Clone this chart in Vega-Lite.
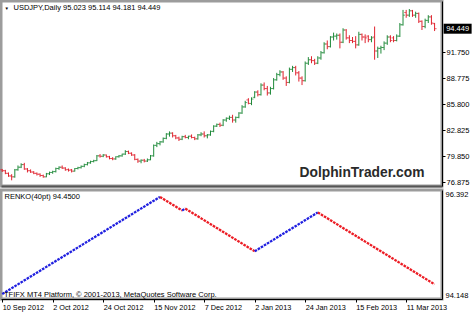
{
  "$schema": "https://vega.github.io/schema/vega-lite/v6.json",
  "padding": {"left": -4, "top": -1, "right": 0, "bottom": 0},
  "background": "white",
  "spacing": 0,
  "config": {
    "font": "Liberation Sans",
    "view": {"stroke": "#9c9c9c", "strokeWidth": 3},
    "axis": {"labelColor": "#000000", "domainColor": "#000000", "tickColor": "#000000", "labelFontSize": 7.5, "grid": false, "labelOverlap": false}
  },
  "resolve": {"scale": {"x": "independent", "y": "independent"}},
  "datasets": {
    "bars": [
      {"i":0,"o":78.30,"h":78.40,"l":78.05,"c":78.20},
      {"i":1,"o":78.20,"h":78.30,"l":77.80,"c":77.90},
      {"i":2,"o":77.90,"h":78.00,"l":77.50,"c":77.60},
      {"i":3,"o":77.60,"h":77.80,"l":77.10,"c":77.50},
      {"i":4,"o":77.50,"h":78.40,"l":77.40,"c":78.30},
      {"i":5,"o":78.30,"h":78.80,"l":78.20,"c":78.60},
      {"i":6,"o":78.60,"h":79.05,"l":78.50,"c":78.90},
      {"i":7,"o":78.90,"h":79.10,"l":78.30,"c":78.40},
      {"i":8,"o":78.40,"h":78.50,"l":78.00,"c":78.20},
      {"i":9,"o":78.20,"h":78.35,"l":77.95,"c":78.05},
      {"i":10,"o":78.05,"h":78.15,"l":77.80,"c":77.90},
      {"i":11,"o":77.90,"h":78.00,"l":77.65,"c":77.80},
      {"i":12,"o":77.80,"h":77.90,"l":77.50,"c":77.65},
      {"i":13,"o":77.65,"h":77.75,"l":77.40,"c":77.50},
      {"i":14,"o":77.50,"h":77.95,"l":77.45,"c":77.85},
      {"i":15,"o":77.85,"h":78.10,"l":77.70,"c":78.00},
      {"i":16,"o":78.00,"h":78.20,"l":77.85,"c":78.10},
      {"i":17,"o":78.10,"h":78.55,"l":78.00,"c":78.45},
      {"i":18,"o":78.45,"h":78.70,"l":78.30,"c":78.60},
      {"i":19,"o":78.60,"h":78.80,"l":78.40,"c":78.50},
      {"i":20,"o":78.50,"h":78.60,"l":78.20,"c":78.30},
      {"i":21,"o":78.35,"h":78.45,"l":78.10,"c":78.25},
      {"i":22,"o":78.30,"h":78.40,"l":78.00,"c":78.15},
      {"i":23,"o":78.15,"h":78.50,"l":78.10,"c":78.45},
      {"i":24,"o":78.45,"h":78.65,"l":78.35,"c":78.55},
      {"i":25,"o":78.55,"h":78.80,"l":78.45,"c":78.70},
      {"i":26,"o":78.70,"h":79.00,"l":78.60,"c":78.90},
      {"i":27,"o":78.90,"h":79.20,"l":78.80,"c":79.10},
      {"i":28,"o":79.10,"h":79.35,"l":79.00,"c":79.25},
      {"i":29,"o":79.25,"h":79.45,"l":79.15,"c":79.35},
      {"i":30,"o":79.35,"h":80.00,"l":79.30,"c":79.90},
      {"i":31,"o":79.90,"h":80.10,"l":79.70,"c":79.85},
      {"i":32,"o":79.85,"h":80.10,"l":79.75,"c":80.00},
      {"i":33,"o":80.00,"h":80.05,"l":79.70,"c":79.80},
      {"i":34,"o":79.80,"h":79.90,"l":79.50,"c":79.60},
      {"i":35,"o":79.60,"h":79.75,"l":79.40,"c":79.55},
      {"i":36,"o":79.55,"h":79.85,"l":79.45,"c":79.80},
      {"i":37,"o":79.80,"h":80.00,"l":79.70,"c":79.90},
      {"i":38,"o":79.90,"h":80.15,"l":79.80,"c":80.10},
      {"i":39,"o":80.10,"h":80.55,"l":80.00,"c":80.40},
      {"i":40,"o":80.40,"h":80.50,"l":80.10,"c":80.20},
      {"i":41,"o":80.20,"h":80.30,"l":79.90,"c":80.00},
      {"i":42,"o":80.00,"h":80.10,"l":79.40,"c":79.50},
      {"i":43,"o":79.50,"h":79.60,"l":79.10,"c":79.30},
      {"i":44,"o":79.30,"h":79.50,"l":79.05,"c":79.40},
      {"i":45,"o":79.40,"h":79.55,"l":79.15,"c":79.30},
      {"i":46,"o":79.30,"h":79.60,"l":79.20,"c":79.45},
      {"i":47,"o":79.45,"h":80.00,"l":79.40,"c":79.90},
      {"i":48,"o":79.90,"h":81.20,"l":79.80,"c":81.10},
      {"i":49,"o":81.10,"h":81.50,"l":80.90,"c":81.30},
      {"i":50,"o":81.30,"h":81.60,"l":81.10,"c":81.50},
      {"i":51,"o":81.50,"h":82.00,"l":81.40,"c":81.90},
      {"i":52,"o":81.90,"h":82.50,"l":81.80,"c":82.40},
      {"i":53,"o":82.40,"h":82.70,"l":82.10,"c":82.50},
      {"i":54,"o":82.50,"h":82.60,"l":82.00,"c":82.20},
      {"i":55,"o":82.20,"h":82.30,"l":81.80,"c":81.95},
      {"i":56,"o":81.95,"h":82.10,"l":81.60,"c":81.80},
      {"i":57,"o":81.80,"h":82.20,"l":81.70,"c":82.10},
      {"i":58,"o":82.10,"h":82.30,"l":81.90,"c":82.00},
      {"i":59,"o":82.00,"h":82.20,"l":81.80,"c":82.15},
      {"i":60,"o":82.15,"h":82.35,"l":81.90,"c":82.00},
      {"i":61,"o":82.00,"h":82.10,"l":81.70,"c":81.85},
      {"i":62,"o":81.85,"h":82.40,"l":81.75,"c":82.30},
      {"i":63,"o":82.30,"h":82.60,"l":82.15,"c":82.40},
      {"i":64,"o":82.40,"h":82.70,"l":82.00,"c":82.20},
      {"i":65,"o":82.20,"h":82.40,"l":81.90,"c":82.30},
      {"i":66,"o":82.30,"h":82.80,"l":82.20,"c":82.70},
      {"i":67,"o":82.70,"h":83.40,"l":82.60,"c":83.30},
      {"i":68,"o":83.30,"h":83.60,"l":83.20,"c":83.50},
      {"i":69,"o":83.50,"h":83.70,"l":83.20,"c":83.40},
      {"i":70,"o":83.40,"h":84.10,"l":83.30,"c":84.00},
      {"i":71,"o":84.00,"h":84.30,"l":83.80,"c":84.20},
      {"i":72,"o":84.20,"h":84.50,"l":84.00,"c":84.30},
      {"i":73,"o":84.30,"h":84.60,"l":83.70,"c":84.00},
      {"i":74,"o":84.00,"h":84.40,"l":83.70,"c":84.30},
      {"i":75,"o":84.30,"h":84.90,"l":84.20,"c":84.80},
      {"i":76,"o":84.80,"h":85.70,"l":84.70,"c":85.50},
      {"i":77,"o":85.50,"h":86.20,"l":85.40,"c":86.00},
      {"i":78,"o":86.30,"h":86.50,"l":85.80,"c":85.90},
      {"i":79,"o":85.90,"h":86.60,"l":85.70,"c":86.40},
      {"i":80,"o":86.60,"h":87.30,"l":86.50,"c":87.20},
      {"i":81,"o":87.20,"h":87.40,"l":86.70,"c":86.90},
      {"i":82,"o":86.90,"h":88.20,"l":86.80,"c":88.00},
      {"i":83,"o":88.00,"h":88.30,"l":87.40,"c":87.60},
      {"i":84,"o":87.60,"h":87.90,"l":86.80,"c":87.10},
      {"i":85,"o":87.10,"h":87.80,"l":86.90,"c":87.60},
      {"i":86,"o":87.60,"h":88.80,"l":87.50,"c":88.60},
      {"i":87,"o":88.60,"h":89.40,"l":88.50,"c":89.20},
      {"i":88,"o":89.20,"h":89.70,"l":89.00,"c":89.50},
      {"i":89,"o":89.50,"h":89.60,"l":88.60,"c":88.80},
      {"i":90,"o":88.80,"h":89.00,"l":87.90,"c":88.30},
      {"i":91,"o":88.30,"h":90.00,"l":88.20,"c":89.80},
      {"i":92,"o":89.80,"h":90.20,"l":89.50,"c":90.00},
      {"i":93,"o":90.00,"h":90.20,"l":89.10,"c":89.40},
      {"i":94,"o":89.40,"h":89.60,"l":88.40,"c":88.80},
      {"i":95,"o":88.80,"h":89.00,"l":88.00,"c":88.50},
      {"i":96,"o":88.50,"h":90.70,"l":88.40,"c":90.50},
      {"i":97,"o":90.50,"h":91.20,"l":90.30,"c":90.90},
      {"i":98,"o":90.90,"h":91.30,"l":90.50,"c":90.80},
      {"i":99,"o":90.80,"h":91.00,"l":90.30,"c":90.50},
      {"i":100,"o":90.50,"h":91.30,"l":90.40,"c":91.10},
      {"i":101,"o":91.10,"h":91.90,"l":90.90,"c":91.70},
      {"i":102,"o":91.70,"h":92.90,"l":91.60,"c":92.70},
      {"i":103,"o":92.70,"h":93.10,"l":92.10,"c":92.40},
      {"i":104,"o":92.40,"h":93.60,"l":92.30,"c":93.50},
      {"i":105,"o":93.50,"h":94.00,"l":93.10,"c":93.60},
      {"i":106,"o":93.60,"h":93.90,"l":93.20,"c":93.70},
      {"i":107,"o":93.70,"h":93.90,"l":92.20,"c":92.90},
      {"i":108,"o":92.90,"h":94.50,"l":92.80,"c":94.30},
      {"i":109,"o":94.30,"h":94.40,"l":93.20,"c":93.40},
      {"i":110,"o":93.40,"h":93.70,"l":92.80,"c":93.10},
      {"i":111,"o":93.10,"h":93.50,"l":92.80,"c":93.00},
      {"i":112,"o":93.00,"h":93.60,"l":92.20,"c":92.60},
      {"i":113,"o":92.60,"h":94.10,"l":92.50,"c":93.80},
      {"i":114,"o":93.80,"h":93.90,"l":93.10,"c":93.50},
      {"i":115,"o":93.50,"h":93.80,"l":92.80,"c":93.40},
      {"i":116,"o":93.60,"h":93.70,"l":92.90,"c":93.20},
      {"i":117,"o":93.20,"h":93.60,"l":92.90,"c":93.40},
      {"i":118,"o":93.50,"h":94.70,"l":90.90,"c":91.90},
      {"i":119,"o":91.90,"h":92.40,"l":91.10,"c":92.20},
      {"i":120,"o":92.20,"h":92.50,"l":91.60,"c":92.30},
      {"i":121,"o":92.30,"h":93.00,"l":92.00,"c":92.80},
      {"i":122,"o":92.80,"h":93.70,"l":92.60,"c":93.50},
      {"i":123,"o":93.50,"h":93.70,"l":92.90,"c":93.10},
      {"i":124,"o":93.40,"h":93.60,"l":92.90,"c":93.10},
      {"i":125,"o":93.10,"h":93.80,"l":93.00,"c":93.60},
      {"i":126,"o":93.60,"h":95.10,"l":93.50,"c":94.90},
      {"i":127,"o":94.90,"h":96.60,"l":94.80,"c":96.00},
      {"i":128,"o":96.30,"h":96.60,"l":95.70,"c":96.00},
      {"i":129,"o":96.00,"h":96.70,"l":95.80,"c":96.50},
      {"i":130,"o":96.50,"h":96.60,"l":95.80,"c":96.00},
      {"i":131,"o":96.00,"h":96.40,"l":95.70,"c":96.20},
      {"i":132,"o":96.20,"h":96.30,"l":95.10,"c":95.30},
      {"i":133,"o":95.30,"h":95.40,"l":94.30,"c":94.70},
      {"i":134,"o":94.70,"h":95.60,"l":94.50,"c":95.40},
      {"i":135,"o":95.40,"h":96.00,"l":95.10,"c":95.80},
      {"i":136,"o":95.80,"h":96.00,"l":94.90,"c":95.10},
      {"i":137,"o":95.023,"h":95.114,"l":94.181,"c":94.449}
    ],
    "renko": [
      {"seg":1,"dir":"up","i":0,"v":94.25},
      {"seg":1,"dir":"up","i":50,"v":96.25},
      {"seg":2,"dir":"down","i":50,"v":96.25},
      {"seg":2,"dir":"down","i":57,"v":95.97},
      {"seg":3,"dir":"up","i":57,"v":95.97},
      {"seg":3,"dir":"up","i":58,"v":96.01},
      {"seg":4,"dir":"down","i":58,"v":96.01},
      {"seg":4,"dir":"down","i":80,"v":95.13},
      {"seg":5,"dir":"up","i":80,"v":95.13},
      {"seg":5,"dir":"up","i":100,"v":95.93},
      {"seg":6,"dir":"down","i":100,"v":95.93},
      {"seg":6,"dir":"down","i":137,"v":94.45}
    ]
  },
  "vconcat": [
    {
      "width": 441,
      "height": 185,
      "layer": [
        {
          "data": {"name": "bars"},
          "mark": {"type": "rule", "strokeWidth": 1},
          "encoding": {
            "x": {"field": "i", "type": "quantitative", "scale": {"domain": [-0.38, 139.35], "nice": false, "zero": false},
                  "axis": {"orient": "bottom", "labels": false, "ticks": false, "domainColor": "#555555", "domainWidth": 2, "zindex": 1, "title": null}},
            "y": {"field": "l", "type": "quantitative", "scale": {"domain": [76.45, 97.62], "nice": false, "zero": false},
                  "axis": {"orient": "right", "values": [76.875, 79.85, 82.825, 85.8, 88.775, 91.75], "tickCount": 20, "format": ".3f", "tickSize": 3, "labelPadding": 1, "labelOverlap": false, "title": null, "labelFontSize": 7.5, "labelColor": "#000000", "zindex": 1}},
            "y2": {"field": "h"},
            "color": {"condition": {"test": "datum.c >= datum.o", "value": "#1f8a3a"}, "value": "#e0222e"}
          }
        },
        {
          "data": {"name": "bars"},
          "mark": {"type": "tick", "orient": "horizontal", "size": 2, "thickness": 1, "xOffset": -1},
          "encoding": {
            "x": {"field": "i", "type": "quantitative"},
            "y": {"field": "o", "type": "quantitative"},
            "color": {"condition": {"test": "datum.c >= datum.o", "value": "#1f8a3a"}, "value": "#e0222e"}
          }
        },
        {
          "data": {"name": "bars"},
          "mark": {"type": "tick", "orient": "horizontal", "size": 2, "thickness": 1, "xOffset": 1},
          "encoding": {
            "x": {"field": "i", "type": "quantitative"},
            "y": {"field": "c", "type": "quantitative"},
            "color": {"condition": {"test": "datum.c >= datum.o", "value": "#1f8a3a"}, "value": "#e0222e"}
          }
        },
        {
          "data": {"values": [{}]},
          "mark": {"type": "text", "text": "▼", "align": "left", "baseline": "top", "dx": 3.5, "dy": 4.5, "fontSize": 4.5, "color": "black"},
          "encoding": {
            "x": {"datum": -0.38, "type": "quantitative"},
            "y": {"datum": 97.62, "type": "quantitative"}
          }
        },
        {
          "data": {"values": [{}]},
          "mark": {"type": "text", "text": "USDJPY,Daily  95.023 95.114 94.181 94.449", "align": "left", "baseline": "top", "dx": 12.5, "dy": 3, "fontSize": 7.5, "color": "black"},
          "encoding": {
            "x": {"datum": -0.38, "type": "quantitative"},
            "y": {"datum": 97.62, "type": "quantitative"}
          }
        },
        {
          "data": {"values": [{}]},
          "mark": {"type": "text", "text": "DolphinTrader.com", "align": "center", "baseline": "middle", "fontSize": 13.8, "fontWeight": "bold", "color": "#2a2a2a"},
          "encoding": {
            "x": {"datum": 114.0, "type": "quantitative"},
            "y": {"datum": 77.94, "type": "quantitative"}
          }
        },
        {
          "data": {"values": [{}]},
          "mark": {"type": "tick", "orient": "horizontal", "size": 28, "thickness": 10, "color": "black", "opacity": 1},
          "encoding": {
            "x": {"datum": 144.3, "type": "quantitative"},
            "y": {"datum": 94.449, "type": "quantitative"}
          }
        },
        {
          "data": {"values": [{}]},
          "mark": {"type": "text", "text": "94.449", "align": "center", "baseline": "middle", "fontSize": 7.5, "color": "white"},
          "encoding": {
            "x": {"datum": 144.3, "type": "quantitative"},
            "y": {"datum": 94.449, "type": "quantitative"}
          }
        }
      ]
    },
    {
      "width": 441,
      "height": 109,
      "layer": [
        {
          "data": {"name": "renko"},
          "mark": {"type": "line", "strokeWidth": 2.3, "strokeDash": [2.6, 1.0], "strokeCap": "butt"},
          "encoding": {
            "x": {"field": "i", "type": "quantitative", "scale": {"domain": [-0.38, 139.35], "nice": false, "zero": false},
                  "axis": {"orient": "bottom", "values": [0, 16, 32, 48, 64, 80, 96, 112, 128], "tickCount": 20, "tickSize": 3, "labelPadding": 1, "labelAlign": "left", "labelBaseline": "top", "labelFlush": false, "labelOverlap": false, "labelFontSize": 7.3, "labelColor": "#000000", "title": null, "zindex": 1,
                           "labelExpr": "['10 Sep 2012','2 Oct 2012','24 Oct 2012','15 Nov 2012','7 Dec 2012','2 Jan 2013','24 Jan 2013','15 Feb 2013','11 Mar 2013'][round(datum.value/16)]"}},
            "y": {"field": "v", "type": "quantitative", "scale": {"domain": [94.148, 96.392], "nice": false, "zero": false},
                  "axis": {"orient": "right", "values": [94.148, 96.392], "format": ".3f", "ticks": false, "labelPadding": 3, "labelFlush": true, "labelOverlap": false, "title": null, "labelFontSize": 7.5, "labelColor": "#000000", "zindex": 1}},
            "detail": {"field": "seg", "type": "nominal"},
            "color": {"field": "dir", "type": "nominal", "scale": {"domain": ["up", "down"], "range": ["#2020e0", "#ec1c24"]}, "legend": null}
          }
        },
        {
          "data": {"values": [{}]},
          "mark": {"type": "text", "text": "RENKO(40pt) 94.4500", "align": "left", "baseline": "top", "dx": 3.5, "dy": 3, "fontSize": 7.5, "color": "black"},
          "encoding": {
            "x": {"datum": -0.38, "type": "quantitative"},
            "y": {"datum": 96.392, "type": "quantitative"}
          }
        },
        {
          "data": {"values": [{}]},
          "mark": {"type": "text", "text": "TFIFX MT4 Platform, © 2001-2013, MetaQuotes Software Corp.", "align": "left", "baseline": "bottom", "dx": 3, "dy": -0.5, "fontSize": 7.5, "color": "black"},
          "encoding": {
            "x": {"datum": -0.38, "type": "quantitative"},
            "y": {"datum": 94.148, "type": "quantitative"}
          }
        }
      ]
    }
  ]
}
